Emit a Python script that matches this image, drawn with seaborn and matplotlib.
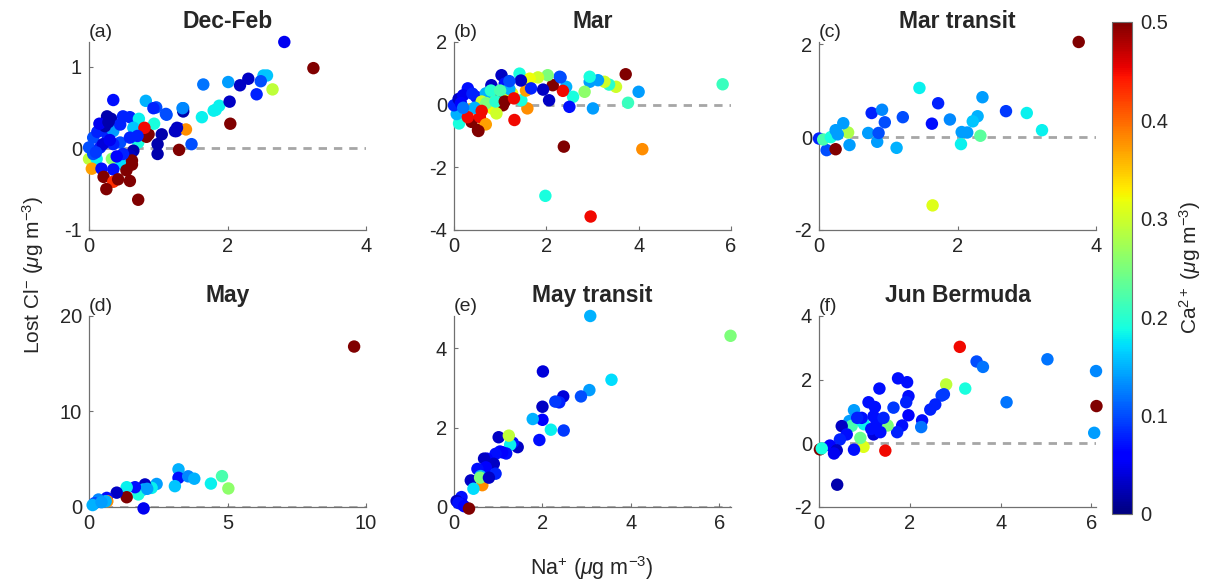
import numpy as np
import pandas as pd
import matplotlib
import matplotlib.pyplot as plt
import seaborn as sns

sns.set_style("ticks")
plt.rcParams['font.family'] = ['Liberation Sans', 'DejaVu Sans']
plt.rcParams['mathtext.fontset'] = 'custom'
plt.rcParams['mathtext.rm'] = 'Liberation Sans'
plt.rcParams['mathtext.it'] = 'Liberation Sans:italic'
plt.rcParams['axes.unicode_minus'] = False

#%% DATA  (Na+, lost Cl-, Ca2+) for each panel

na_a = [0.35, 0.82, 0.97, 0.93, 1.11, 1.36, 1.36, 1.63, 1.80, 1.88, 0.26, 0.32, 0.49, 0.59, 0.72, 0.64,
        0.81, 0.86, 0.94, 1.05, 0.99, 0.99, 1.26, 1.30, 1.40, 1.48, 1.30, 0.71, 0.64, 0.59, 0.00, 0.11,
        0.33, 0.47, 0.04, 0.18, 0.35, 0.62, 0.62, 0.21, 0.35, 0.42, 0.59, 0.25, 0.71, 0.54, 0.00, 0.06,
        0.12, 0.26, 0.35, 0.45, 0.35, 0.16, 0.06, 0.49, 0.23, 0.59, 0.45, 2.82, 3.24, 2.65, 2.52, 2.57,
        2.48, 2.30, 2.18, 2.42, 2.01, 1.65, 2.03, 2.04, 1.83, 1.27, 1.24, 1.35, 1.12, 0.83, 0.80, 0.20,
        0.10, 0.30, 0.40, 0.15, 0.28, 0.70]
cl_a = [0.59, 0.58, 0.50, 0.49, 0.42, 0.49, 0.45, 0.38, 0.46, 0.52, 0.39, 0.36, 0.39, 0.38, 0.36, 0.25,
        0.24, 0.17, 0.30, 0.17, 0.05, -0.07, 0.21, 0.24, 0.23, 0.05, -0.02, 0.07, -0.03, -0.09, -0.13, -0.13,
        -0.13, -0.19, -0.25, -0.25, -0.26, -0.15, -0.20, -0.35, -0.41, -0.38, -0.40, -0.50, -0.63, -0.27, 0.01, 0.13,
        0.20, 0.17, 0.21, 0.07, 0.05, 0.01, -0.07, -0.07, 0.27, 0.13, 0.29, 1.30, 0.98, 0.72, 0.89, 0.89,
        0.82, 0.85, 0.77, 0.66, 0.81, 0.78, 0.57, 0.30, 0.47, 0.25, 0.21, 0.49, 0.41, 0.14, 0.25, 0.05,
        -0.05, 0.10, -0.10, 0.30, 0.32, 0.15]
ca_a = [0.07, 0.15, 0.10, 0.08, 0.10, 0.13, 0.02, 0.18, 0.18, 0.18, 0.02, 0.02, 0.08, 0.08, 0.18, 0.16,
        0.45, 0.50, 0.19, 0.02, 0.02, 0.02, 0.03, 0.07, 0.38, 0.10, 0.50, 0.19, 0.02, 0.03, 0.29, 0.18,
        0.26, 0.17, 0.37, 0.07, 0.07, 0.50, 0.50, 0.50, 0.43, 0.50, 0.50, 0.50, 0.50, 0.50, 0.10, 0.10,
        0.08, 0.08, 0.14, 0.10, 0.08, 0.08, 0.10, 0.08, 0.02, 0.08, 0.08, 0.05, 0.50, 0.29, 0.16, 0.16,
        0.10, 0.03, 0.03, 0.08, 0.14, 0.12, 0.03, 0.50, 0.18, 0.03, 0.03, 0.13, 0.10, 0.50, 0.45, 0.04,
        0.09, 0.05, 0.06, 0.05, 0.02, 0.08]

na_b = [3.72, 4.00, 3.77, 3.51, 3.36, 3.26, 3.12, 2.94, 2.94, 2.83, 3.01, 2.58, 2.43, 2.36, 2.29, 2.50,
        2.14, 2.06, 1.93, 2.03, 1.82, 1.64, 1.53, 1.42, 1.64, 1.59, 1.31, 1.26, 1.06, 1.03, 1.10, 0.97,
        0.81, 0.77, 0.83, 0.92, 0.66, 0.52, 0.38, 0.56, 0.25, 0.35, 0.11, 0.06, 0.00, 0.10, 0.30, 0.48,
        5.82, 2.38, 4.08, 1.98, 2.96, 0.69, 0.53, 1.46, 1.56, 1.45, 1.67, 2.31, 0.69, 0.20, 0.15, 0.40,
        0.60, 0.70, 0.90, 1.15, 1.20, 0.45, 0.30, 0.80, 1.00, 1.20, 0.60, 1.10, 1.30, 0.20]
cl_b = [0.97, 0.41, 0.06, 0.57, 0.64, 0.73, 0.78, 0.73, 0.89, 0.41, -0.12, 0.25, 0.57, 0.44, 0.89, -0.07,
        0.62, 0.14, 0.48, 0.94, 0.87, 0.52, 0.78, 0.99, 0.83, -0.12, -0.49, 0.36, -0.02, 0.94, 0.67, 0.30,
        0.62, 0.25, -0.12, -0.28, -0.60, -0.81, -0.55, -0.39, -0.15, -0.15, -0.60, -0.30, -0.02, 0.18, 0.52, 0.25,
        0.65, -1.34, -1.42, -2.91, -3.57, -0.63, -0.84, 0.14, 0.45, 0.77, 0.52, 0.87, 0.36, 0.30, 0.05, 0.35,
        0.10, 0.05, 0.10, 0.20, 0.50, -0.10, -0.40, 0.45, 0.45, 0.75, -0.20, 0.10, 0.20, -0.10]
ca_b = [0.50, 0.14, 0.21, 0.30, 0.20, 0.30, 0.14, 0.14, 0.19, 0.26, 0.14, 0.19, 0.15, 0.45, 0.10, 0.07,
        0.50, 0.03, 0.03, 0.25, 0.30, 0.08, 0.03, 0.19, 0.32, 0.38, 0.45, 0.32, 0.50, 0.03, 0.07, 0.03,
        0.03, 0.31, 0.32, 0.30, 0.37, 0.50, 0.50, 0.45, 0.26, 0.37, 0.19, 0.15, 0.08, 0.03, 0.07, 0.07,
        0.21, 0.50, 0.38, 0.19, 0.45, 0.37, 0.50, 0.19, 0.37, 0.03, 0.08, 0.10, 0.15, 0.05, 0.06, 0.08,
        0.30, 0.25, 0.20, 0.31, 0.15, 0.15, 0.45, 0.20, 0.22, 0.10, 0.45, 0.50, 0.45, 0.12]

na_c = [3.75, 1.45, 1.72, 2.36, 0.76, 0.91, 0.95, 1.21, 1.63, 1.89, 2.29, 2.22, 2.70, 3.00, 3.22, 2.06,
        2.14, 2.05, 2.33, 1.12, 0.84, 0.71, 0.86, 1.64, 0.42, 0.44, 0.35, 0.11, 0.00, 0.06, 0.17, 0.27,
        0.24, 0.24]
cl_c = [2.05, 1.06, 0.73, 0.86, 0.52, 0.59, 0.32, 0.43, 0.29, 0.38, 0.45, 0.34, 0.56, 0.52, 0.15, 0.11,
        0.10, -0.15, 0.03, -0.23, -0.10, 0.09, 0.09, -1.47, 0.10, -0.17, 0.30, -0.28, -0.03, -0.05, 0.00, 0.06,
        0.15, -0.26]
ca_c = [0.50, 0.18, 0.08, 0.14, 0.08, 0.13, 0.10, 0.10, 0.07, 0.13, 0.15, 0.16, 0.09, 0.18, 0.18, 0.14,
        0.14, 0.18, 0.23, 0.15, 0.14, 0.14, 0.10, 0.31, 0.28, 0.14, 0.14, 0.10, 0.08, 0.22, 0.19, 0.14,
        0.14, 0.50]

na_d = [9.57, 3.23, 3.23, 3.58, 3.80, 3.10, 4.40, 4.80, 5.03, 2.44, 2.26, 2.02, 1.96, 1.78, 1.66, 1.36,
        1.36, 1.00, 0.64, 0.66, 0.60, 0.34, 0.20, 0.13, 1.97, 2.10, 0.45]
cl_d = [16.8, 3.94, 3.05, 3.21, 2.96, 2.18, 2.45, 3.23, 1.94, 2.41, 2.00, 2.36, 1.83, 1.31, 2.07, 2.07,
        1.02, 1.50, 0.95, 0.60, 0.60, 0.78, 0.40, 0.20, -0.15, 1.90, 0.50]
ca_d = [0.50, 0.15, 0.07, 0.13, 0.15, 0.16, 0.18, 0.22, 0.26, 0.14, 0.18, 0.03, 0.15, 0.19, 0.07, 0.18,
        0.50, 0.03, 0.07, 0.38, 0.15, 0.13, 0.10, 0.15, 0.05, 0.14, 0.14]

na_e = [3.08, 6.25, 3.56, 3.06, 2.87, 2.47, 2.38, 2.29, 2.01, 2.00, 2.00, 1.78, 2.19, 2.48, 1.93, 1.44,
        1.33, 1.27, 1.01, 1.04, 1.18, 1.09, 0.94, 0.74, 0.68, 0.90, 0.72, 0.53, 0.94, 0.60, 0.38, 0.64,
        0.44, 0.59, 0.79, 0.17, 0.06, 0.18, 0.10, 0.23, 0.34, 1.24]
cl_e = [4.82, 4.32, 3.21, 2.95, 2.79, 2.79, 2.64, 2.66, 3.42, 2.53, 2.20, 2.22, 1.95, 1.93, 1.69, 1.51,
        1.62, 1.57, 1.76, 1.40, 1.35, 1.38, 1.34, 1.22, 1.22, 1.09, 1.00, 0.96, 0.84, 0.78, 0.67, 0.55,
        0.46, 0.74, 0.74, 0.25, 0.15, 0.07, 0.10, 0.02, -0.04, 1.80]
ca_e = [0.15, 0.25, 0.17, 0.14, 0.10, 0.04, 0.08, 0.09, 0.04, 0.03, 0.06, 0.15, 0.18, 0.09, 0.07, 0.03,
        0.07, 0.18, 0.03, 0.07, 0.07, 0.06, 0.07, 0.06, 0.03, 0.03, 0.06, 0.07, 0.08, 0.15, 0.03, 0.38,
        0.17, 0.25, 0.03, 0.07, 0.03, 0.05, 0.07, 0.06, 0.50, 0.29]

na_f = [3.10, 3.47, 3.61, 5.03, 6.10, 4.13, 6.11, 6.06, 3.22, 2.80, 2.75, 2.70, 2.56, 2.45, 2.27, 2.25,
        1.74, 1.94, 1.97, 1.92, 1.64, 1.97, 1.83, 1.72, 1.33, 1.09, 1.23, 1.51, 1.46, 0.98, 0.77, 0.91,
        0.77, 0.67, 0.72, 0.50, 0.61, 0.46, 0.24, 0.39, 0.33, 0.02, 0.06, 0.40, 0.94, 0.99, 0.94, 1.20,
        1.27, 1.20, 1.35, 1.42, 1.15, 0.84]
cl_f = [3.03, 2.57, 2.40, 2.64, 2.27, 1.29, 1.17, 0.33, 1.72, 1.85, 1.54, 1.50, 1.22, 1.06, 0.72, 0.51,
        2.04, 1.92, 1.48, 1.29, 1.12, 0.88, 0.56, 0.35, 1.72, 1.29, 1.14, 0.56, -0.23, -0.11, -0.20, 0.17,
        1.04, 0.70, 0.55, 0.54, 0.28, 0.12, -0.07, -0.22, -0.32, -0.19, -0.16, -1.30, 0.70, 0.60, 0.80, 0.85,
        0.66, 0.28, 0.35, 0.80, 0.45, 0.80]
ca_f = [0.45, 0.10, 0.12, 0.12, 0.13, 0.12, 0.50, 0.14, 0.19, 0.29, 0.09, 0.09, 0.08, 0.08, 0.07, 0.12,
        0.07, 0.07, 0.07, 0.08, 0.09, 0.06, 0.07, 0.08, 0.07, 0.07, 0.07, 0.25, 0.45, 0.31, 0.07, 0.24,
        0.14, 0.14, 0.22, 0.03, 0.07, 0.08, 0.06, 0.03, 0.05, 0.50, 0.19, 0.02, 0.18, 0.18, 0.07, 0.07,
        0.07, 0.04, 0.07, 0.08, 0.07, 0.08]

titles = ['Dec-Feb', 'Mar', 'Mar transit', 'May', 'May transit', 'Jun Bermuda']
letters = ['(a)', '(b)', '(c)', '(d)', '(e)', '(f)']
xlims = [(0, 4), (0, 6), (0, 4), (0, 10), (0, 6.26), (0, 6.1)]
ylims = [(-1, 1.3), (-4, 2), (-2, 2.05), (0, 20), (0, 4.82), (-2, 4)]
xticks = [[0, 2, 4], [0, 2, 4, 6], [0, 2, 4], [0, 5, 10], [0, 2, 4, 6], [0, 2, 4, 6]]
yticks = [[-1, 0, 1], [-4, -2, 0, 2], [-2, 0, 2], [0, 10, 20], [0, 2, 4], [-2, 0, 2, 4]]

panels = [(na_a, cl_a, ca_a), (na_b, cl_b, ca_b), (na_c, cl_c, ca_c),
          (na_d, cl_d, ca_d), (na_e, cl_e, ca_e), (na_f, cl_f, ca_f)]

jet = matplotlib.colormaps['jet']
norm = matplotlib.colors.Normalize(0, 0.5)

#%% FIGURE

fig = plt.figure(figsize=(12.08, 5.83), dpi=100)
lefts = [0.0737, 0.3758, 0.678]
bottoms = [0.6055, 0.1304]
heights = [0.3225, 0.3276]

for i, (na, cl, ca) in enumerate(panels):
    row, col = divmod(i, 3)
    ax = fig.add_axes([lefts[col], bottoms[row], 0.2293, heights[row]])
    ax.axhline(0, color='#a6a6a6', lw=2, ls=(0, (3, 2.5)), zorder=0)
    df = pd.DataFrame({'Na': na, 'Cl': cl, 'Ca': ca})
    sns.scatterplot(data=df, x='Na', y='Cl', hue='Ca', palette=jet, hue_norm=norm,
                    s=80, linewidth=0, alpha=1, legend=False, ax=ax, clip_on=False, zorder=3)
    ax.set_xlim(xlims[i])
    ax.set_ylim(ylims[i])
    ax.set_xticks(xticks[i])
    ax.set_yticks(yticks[i])
    ax.set_xlabel('')
    ax.set_ylabel('')
    sns.despine(ax=ax)
    for s in ['left', 'bottom']:
        ax.spines[s].set_color('#707070')
        ax.spines[s].set_linewidth(0.9)
    ax.tick_params(direction='in', length=3, width=0.8, color='#707070',
                   labelsize=14.5, labelcolor='#262626', pad=5)
    ax.set_title(titles[i], fontsize=16.5, fontweight='bold', pad=10)
    ax.text(0.0, 1.005, letters[i], transform=ax.transAxes, ha='left', va='bottom',
            fontsize=14, color='#262626')

fig.text(0.027, 0.528, r'Lost Cl$^{-}$ ($\mu$g m$^{-3}$)', rotation=90,
         ha='center', va='center', fontsize=15, color='#262626')
fig.text(0.49, 0.026, r'Na$^{+}$ ($\mu$g m$^{-3}$)', ha='center', va='center',
         fontsize=15.5, color='#262626')

cax = fig.add_axes([0.9205, 0.1184, 0.0166, 0.8444])
sm = matplotlib.cm.ScalarMappable(cmap=jet, norm=norm)
cb = fig.colorbar(sm, cax=cax, ticks=[0, 0.1, 0.2, 0.3, 0.4, 0.5])
cb.ax.set_yticklabels(['0', '0.1', '0.2', '0.3', '0.4', '0.5'])
cb.outline.set_edgecolor('#707070')
cb.ax.tick_params(direction='in', length=3, color='#707070', labelsize=14.5,
                  labelcolor='#262626', pad=6)
cb.set_label(r'Ca$^{2+}$ ($\mu$g m$^{-3}$)', fontsize=15, color='#262626', labelpad=6)

fig.savefig('out.png', dpi=100)
